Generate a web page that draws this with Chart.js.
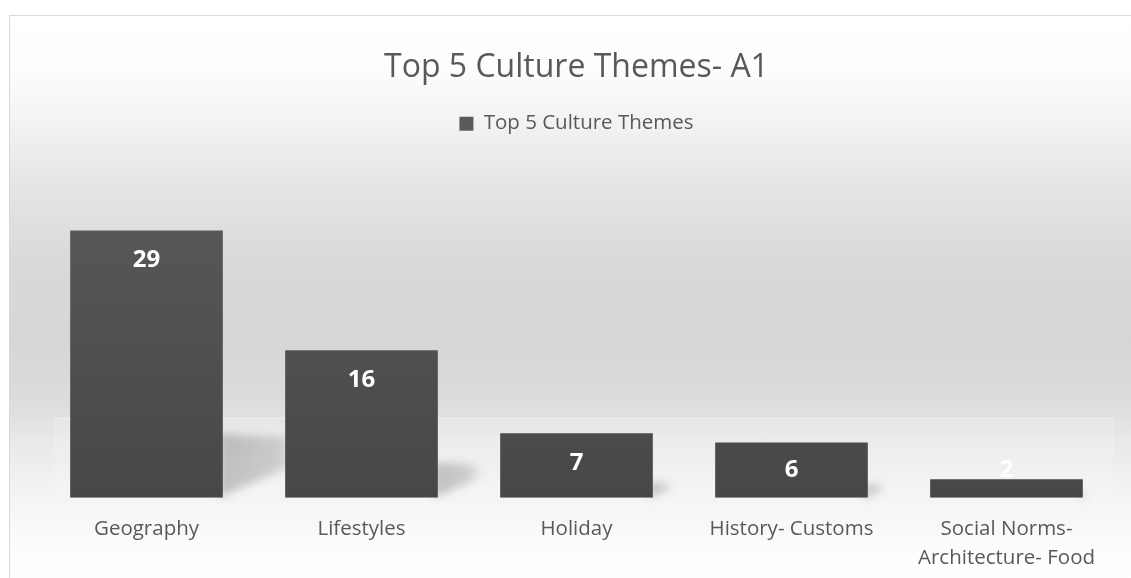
<!DOCTYPE html>
<html>
<head>
<meta charset="utf-8">
<script src="https://cdn.jsdelivr.net/npm/chart.js@4.4.1/dist/chart.umd.min.js"></script>
<style>
  html, body { margin: 0; padding: 0; background: #ffffff; overflow: hidden; }
  #frame {
    position: absolute; left: 9px; top: 15px; width: 1140px; height: 600px;
    border: 1px solid #d9d9d9;
    background: linear-gradient(to bottom, #ffffff 0px, #fcfdfd 50px, #f4f4f4 100px,
      #e6e6e6 165px, #d9d9d9 245px, #d6d6d6 325px, #dcdcdc 385px, #e8e9e9 425px,
      #f4f5f6 485px, #fdfefe 545px, #ffffff 600px);
  }
  #chart { position: absolute; left: 0; top: 0; }
</style>
</head>
<body>
<div id="frame"></div>
<canvas id="chart" width="1131" height="590"></canvas>
<script>
'use strict';

var categories = ['Geography', 'Lifestyles', 'Holiday', 'History- Customs', ['Social Norms-', 'Architecture- Food']];
var themeCounts = [29, 16, 7, 6, 2];
var seriesName = 'Top 5 Culture Themes';

var textGray = '#595959';

var barFill = function(context) {
  var chart = context.chart;
  var area = chart.chartArea;
  if (!area) return '#4d4d4d';
  var g = chart.ctx.createLinearGradient(0, area.top, 0, area.bottom);
  g.addColorStop(0, '#5a5a5a');
  g.addColorStop(1, '#464747');
  return g;
};

// soft floor band and slanted shadows behind the bars
var floorShadows = {
  id: 'floorShadows',
  beforeDatasetsDraw: function(chart) {
    var ctx = chart.ctx;
    var area = chart.chartArea;
    var base = chart.scales.y.getPixelForValue(0);
    ctx.save();
    ctx.fillStyle = 'rgba(255,255,255,0.15)';
    ctx.fillRect(area.left + 15, base - 79, area.right - area.left - 15, 79);
    ctx.fillStyle = 'rgba(255,255,255,0.45)';
    ctx.fillRect(area.left + 15, base - 80, area.right - area.left - 15, 1);
    ctx.filter = 'blur(4px)';
    chart.getDatasetMeta(0).data.forEach(function(bar) {
      var right = bar.x + bar.width / 2;
      var h = (base - bar.y) * 0.24;
      var w = h * 1.3;
      var g = ctx.createLinearGradient(right, 0, right + w, 0);
      g.addColorStop(0, 'rgba(110,110,110,0.38)');
      g.addColorStop(0.65, 'rgba(120,120,120,0.3)');
      g.addColorStop(1, 'rgba(130,130,130,0)');
      ctx.fillStyle = g;
      ctx.beginPath();
      ctx.moveTo(right - 4, base - h);
      ctx.lineTo(right + w, base - h * 0.92);
      ctx.lineTo(right + w, base - h * 0.6);
      ctx.lineTo(right - 4, base);
      ctx.closePath();
      ctx.fill();
    });
    ctx.restore();
  }
};

// white value labels near the top inside each bar
var valueLabels = {
  id: 'valueLabels',
  afterDatasetsDraw: function(chart) {
    var ctx = chart.ctx;
    var base = chart.scales.y.getPixelForValue(0);
    ctx.save();
    ctx.font = 'bold 24px "Open Sans"';
    ctx.fillStyle = '#ffffff';
    ctx.textAlign = 'center';
    ctx.textBaseline = 'middle';
    chart.getDatasetMeta(0).data.forEach(function(bar, i) {
      var y = Math.min(bar.y + 30, base - 28);
      ctx.fillText(String(themeCounts[i]), bar.x, y);
    });
    ctx.restore();
  }
};

var ctx = document.getElementById('chart').getContext('2d');
var chart = new Chart(ctx, {
  type: 'bar',
  data: {
    labels: categories,
    datasets: [{
      label: seriesName,
      data: themeCounts,
      backgroundColor: barFill,
      borderWidth: 0,
      barPercentage: 0.71,
      categoryPercentage: 1.0
    }]
  },
  options: {
    responsive: false,
    animation: false,
    layout: { padding: { left: 39, right: 17, top: 0, bottom: 8 } },
    plugins: {
      title: {
        display: true,
        text: 'Top 5 Culture Themes- A1',
        color: textGray,
        font: { family: 'Open Sans', size: 32, weight: 'normal' },
        padding: { top: 49, bottom: 0 }
      },
      // empty block that keeps a gap between the legend and the bars
      subtitle: {
        display: true,
        text: '',
        weight: 500,
        font: { size: 1 },
        padding: { top: 30, bottom: 0 }
      },
      legend: {
        display: true,
        labels: {
          color: textGray,
          font: { family: 'Open Sans', size: 20.5 },
          boxWidth: 14,
          boxHeight: 14,
          padding: 26
        }
      },
      tooltip: { enabled: false }
    },
    scales: {
      x: {
        grid: { display: false },
        border: { display: false },
        ticks: {
          color: textGray,
          font: { family: 'Open Sans', size: 20.5, lineHeight: 1.42 },
          padding: 9,
          maxRotation: 0
        }
      },
      y: {
        display: false,
        min: 0,
        max: 35
      }
    }
  },
  plugins: [floorShadows, valueLabels]
});
</script>
</body>
</html>
